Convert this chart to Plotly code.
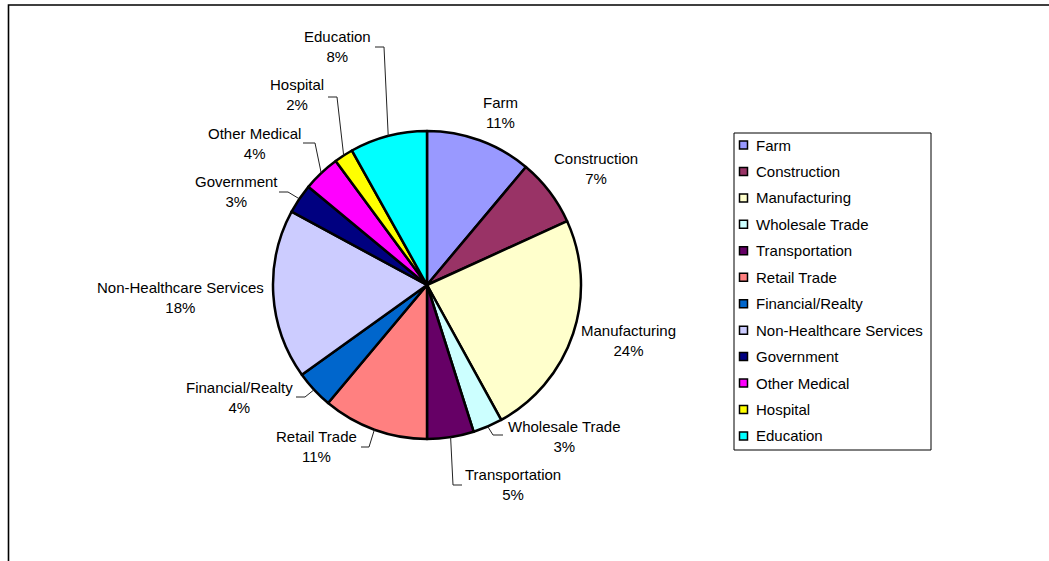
import math
import plotly.graph_objects as go

# ---- data ----
categories = ["Farm", "Construction", "Manufacturing", "Wholesale Trade", "Transportation",
              "Retail Trade", "Financial/Realty", "Non-Healthcare Services", "Government",
              "Other Medical", "Hospital", "Education"]
values = [11.1, 7.1, 23.8, 3.1, 4.9, 11.1, 4.0, 17.8, 3.1, 3.9, 2.0, 8.1]
colors = ["#9999FF", "#993366", "#FFFFCC", "#CCFFFF", "#660066", "#FF8080",
          "#0066CC", "#CCCCFF", "#000080", "#FF00FF", "#FFFF00", "#00FFFF"]

# ---- layout (pixels) ----
W, H = 1049, 561
CX, CY, R = 427, 285, 154
FONT = "Liberation Sans, Arial, sans-serif"

# label block centres (pixels)
label_pos = {
    "Farm": (500, 112.5), "Construction": (596, 168.5), "Manufacturing": (628.5, 340),
    "Wholesale Trade": (564, 436), "Transportation": (513, 484), "Retail Trade": (316.5, 446),
    "Financial/Realty": (239.5, 397), "Non-Healthcare Services": (180, 297),
    "Government": (236, 191.5), "Other Medical": (254.5, 143), "Hospital": (297, 95),
    "Education": (337.5, 46.5),
}
# leader line start / elbow (pixels); end computed from slice mid-angle
leaders = {
    "Education": [(375, 47), (384, 47)],
    "Hospital": [(328, 97), (337, 97)],
    "Other Medical": [(303, 143), (315, 143)],
    "Government": [(279, 192), (288, 192)],
    "Financial/Realty": [(296, 397), (305, 397)],
    "Retail Trade": [(361, 447), (369, 447)],
    "Transportation": [(462, 485), (453, 485)],
    "Wholesale Trade": [(503, 435), (493, 435)],
}


def px(x):
    return x / W


def py(y):
    return 1 - y / H


fig = go.Figure()
fig.add_trace(go.Pie(
    labels=categories, values=values, sort=False, direction="clockwise", rotation=0,
    marker=dict(colors=colors, line=dict(color="black", width=2.5)),
    textinfo="none", showlegend=False,
    domain=dict(x=[px(CX - R), px(CX + R)], y=[py(CY + R), py(CY - R)]),
))

total = sum(values)
annotations = []
shapes = []

# frame
shapes.append(dict(type="rect", xref="paper", yref="paper",
                   x0=px(8.5), x1=px(W + 20), y0=py(H + 20), y1=py(5),
                   line=dict(color="black", width=1.6), fillcolor="rgba(0,0,0,0)"))

cum = 0.0
for name, v in zip(categories, values):
    mid = (cum + v / 2) / total * 2 * math.pi
    cum += v
    pct = f"{round(v / total * 100)}%"
    lx, ly = label_pos[name]
    annotations.append(dict(x=px(lx), y=py(ly), xref="paper", yref="paper",
                            text=f"{name}<br>{pct}", showarrow=False,
                            xanchor="center", yanchor="middle",
                            font=dict(family=FONT, size=15, color="black")))
    if name in leaders:
        ex = CX + R * math.sin(mid)
        ey = CY - R * math.cos(mid)
        pts = leaders[name] + [(ex, ey)]
        path = "M " + " L ".join(f"{px(x)},{py(y)}" for x, y in pts)
        shapes.append(dict(type="path", xref="paper", yref="paper", path=path,
                           line=dict(color="#222222", width=1)))

# legend box
LX0, LY0, LX1, LY1 = 734, 133, 931, 450
shapes.append(dict(type="rect", xref="paper", yref="paper",
                   x0=px(LX0), x1=px(LX1), y0=py(LY1), y1=py(LY0),
                   line=dict(color="black", width=1), fillcolor="white", layer="below"))
step = 26.45
for i, (name, c) in enumerate(zip(categories, colors)):
    yc = 145 + step * i
    shapes.append(dict(type="rect", xref="paper", yref="paper",
                       x0=px(739.5), x1=px(747.5), y0=py(yc + 4), y1=py(yc - 4),
                       line=dict(color="black", width=1.5), fillcolor=c))
    annotations.append(dict(x=px(754), y=py(yc), xref="paper", yref="paper",
                            text=name, showarrow=False, xanchor="left", yanchor="middle",
                            font=dict(family=FONT, size=15, color="black")))

fig.update_layout(
    width=W, height=H, margin=dict(l=0, r=0, t=0, b=0),
    paper_bgcolor="white", plot_bgcolor="white",
    annotations=annotations, shapes=shapes,
)
fig.write_html("out.html", config={"displayModeBar": False},
               post_script="document.body.style.margin='0';document.body.style.overflow='hidden';")
